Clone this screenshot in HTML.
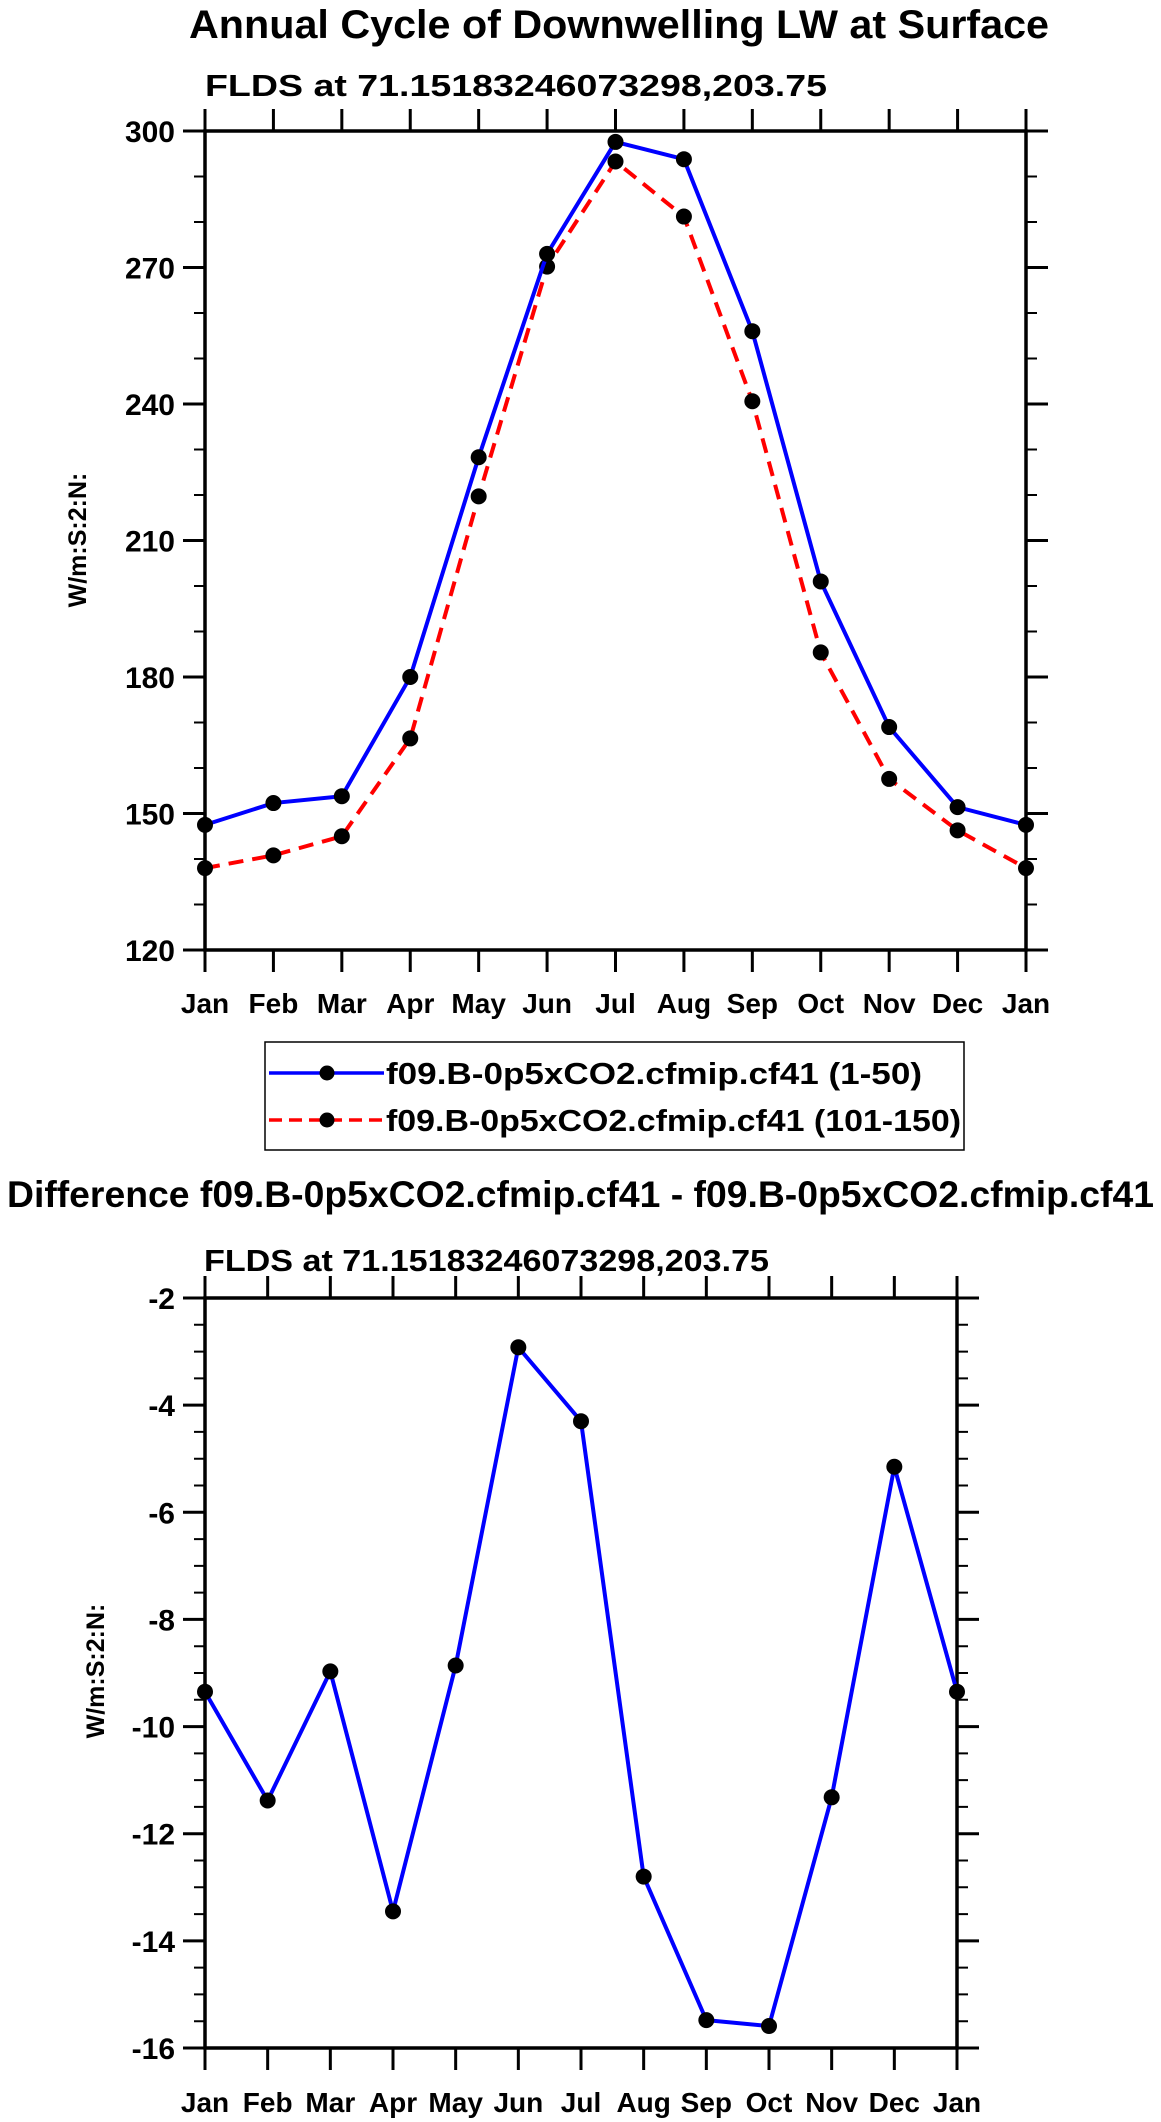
<!DOCTYPE html>
<html><head><meta charset="utf-8"><style>
html,body{margin:0;padding:0;background:#fff;}
svg{display:block;font-family:"Liberation Sans",Arial,sans-serif;font-weight:bold;}
</style></head><body>
<svg id="svg" width="1161" height="2122" viewBox="0 0 1161 2122" xmlns="http://www.w3.org/2000/svg">
<text x="619" y="38" font-size="40" text-anchor="middle" textLength="860" lengthAdjust="spacingAndGlyphs">Annual Cycle of Downwelling LW at Surface</text>
<text x="205" y="96" font-size="31" textLength="622" lengthAdjust="spacingAndGlyphs">FLDS at 71.15183246073298,203.75</text>
<text x="7" y="1207" font-size="37" textLength="1147" lengthAdjust="spacingAndGlyphs">Difference f09.B-0p5xCO2.cfmip.cf41 - f09.B-0p5xCO2.cfmip.cf41</text>
<text x="204" y="1271" font-size="31" textLength="565" lengthAdjust="spacingAndGlyphs">FLDS at 71.15183246073298,203.75</text>
<g id="topG"></g><g id="botG"></g>
<g>
<rect x="265" y="1042" width="699" height="108" fill="#fff" stroke="#000" stroke-width="1.5"/>
<g>
<line x1="269" y1="1073" x2="384" y2="1073" stroke="#0000ff" stroke-width="3.5"/>
<circle cx="327" cy="1073" r="7.5" fill="#000"/>
<text x="386" y="1084" font-size="31" textLength="536" lengthAdjust="spacingAndGlyphs">f09.B-0p5xCO2.cfmip.cf41 (1-50)</text>
</g>
<g>
<line x1="269" y1="1120" x2="384" y2="1120" stroke="#ff0000" stroke-width="3.5" stroke-dasharray="13,7"/>
<circle cx="327" cy="1120" r="7.5" fill="#000"/>
<text x="386" y="1131" font-size="31" textLength="575" lengthAdjust="spacingAndGlyphs">f09.B-0p5xCO2.cfmip.cf41 (101-150)</text>
</g>
</g>
</svg>
<script>
const months = ["Jan","Feb","Mar","Apr","May","Jun","Jul","Aug","Sep","Oct","Nov","Dec","Jan"];
const seriesA = [147.5,152.3,153.8,180,228.3,273,297.6,293.8,256,201,169,151.4,147.5];
const seriesB = [138,140.8,145,166.5,219.7,270.2,293.3,281.2,240.6,185.4,157.6,146.3,138];
const diffSeries = [-9.35,-11.38,-8.97,-13.45,-8.86,-2.92,-4.3,-12.8,-15.48,-15.59,-11.32,-5.15,-9.35];
const topTicks = [120,150,180,210,240,270,300];
const botTicks = [-16,-14,-12,-10,-8,-6,-4,-2];

const NS="http://www.w3.org/2000/svg";
function mk(parent,tag,attrs){const e=document.createElementNS(NS,tag);for(const k in attrs)e.setAttribute(k,attrs[k]);parent.appendChild(e);return e;}

function plot(g,cfg){
  const {x0,x1,y0,y1,ymin,ymax,ticks,minor,series,ytx,yty,labelY} = cfg;
  const sx=i=>x0+(x1-x0)*i/(months.length-1);
  const sy=v=>y1-(y1-y0)*(v-ymin)/(ymax-ymin);
  for(let v=ymin;v<=ymax+1e-9;v+=minor){
    const t=mk(g,'path',{d:`M${x0-11},${sy(v)}H${x0}M${x1},${sy(v)}H${x1+11}`,stroke:'#000','stroke-width':2});
    
    
  }
  ticks.forEach(v=>{
    const t=mk(g,'path',{d:`M${x0-22},${sy(v)}H${x0}M${x1},${sy(v)}H${x1+22}`,stroke:'#000','stroke-width':3});
    
    
    const l=mk(g,'text',{x:x0-30,y:sy(v)+11,'font-size':30,'text-anchor':'end'});
    l.textContent=v;
    
    
  });
  months.forEach((m,i)=>{
    const t=mk(g,'path',{d:`M${sx(i)},${y0-22}V${y0}M${sx(i)},${y1}V${y1+22}`,stroke:'#000','stroke-width':3});
    
    
    const l=mk(g,'text',{x:sx(i),y:labelY,'font-size':28,'text-anchor':'middle'});
    l.textContent=m;
    
    
  });
  const fr=mk(g,'rect',{x:x0,y:y0,width:x1-x0,height:y1-y0,fill:'none',stroke:'#000','stroke-width':3.5});
  
  
  const yt=mk(g,'text',{x:ytx,y:yty,'font-size':25,'text-anchor':'middle',transform:`rotate(-90 ${ytx} ${yty})`});
  yt.textContent='W/m:S:2:N:';
  
  
  series.forEach(s=>{
    const p=mk(g,'polyline',{points:s.vals.map((v,i)=>sx(i)+','+sy(v)).join(' '),fill:'none',stroke:s.color,'stroke-width':4,'stroke-dasharray':s.dash||'none'});
    
    
    s.vals.forEach((v,i)=>{
      const c=mk(g,'circle',{cx:sx(i),cy:sy(v),r:8,fill:'#000'});
      
      
    });
  });
}
const topG=document.getElementById('topG');


plot(topG,{x0:205,x1:1026,y0:131,y1:950,ymin:120,ymax:300,ticks:topTicks,minor:10,labelY:1013,ytx:86,yty:540,
  series:[{vals:seriesB,color:'#ff0000',dash:'15,9',name:'series-101-150'},{vals:seriesA,color:'#0000ff',name:'series-1-50'}]});
const botG=document.getElementById('botG');


plot(botG,{x0:205,x1:957,y0:1298,y1:2048,ymin:-16,ymax:-2,ticks:botTicks,minor:0.5,labelY:2112,ytx:104,yty:1671,
  series:[{vals:diffSeries,color:'#0000ff',name:'difference'}]});
</script>
</body></html>
